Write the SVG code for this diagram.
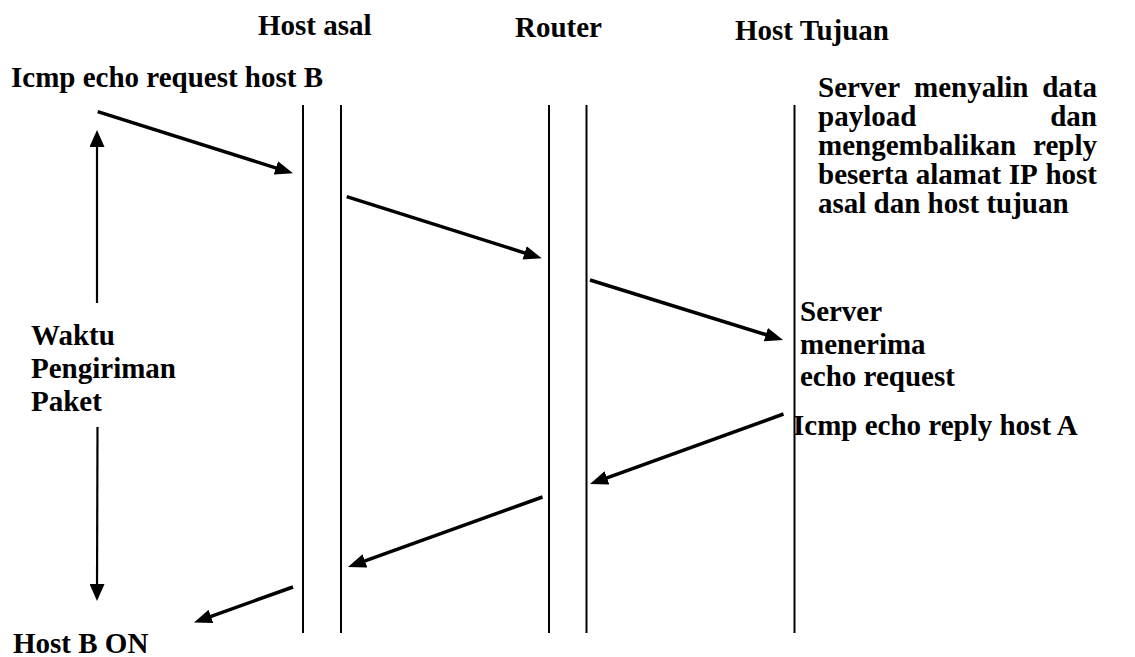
<svg xmlns="http://www.w3.org/2000/svg" width="1135" height="657" viewBox="0 0 1135 657">
  <style>
    text { font-family: "Liberation Serif", "Times New Roman", serif; font-weight: bold; font-size: 29px; fill: #000; }
    .life { stroke: #000; stroke-width: 2; fill: none; }
    .msg { stroke: #000; stroke-width: 3.5; fill: none; marker-end: url(#headThick); }
    .time { stroke: #000; stroke-width: 2.2; fill: none; marker-end: url(#headThin); }
  </style>
  <defs>
    <marker id="headThick" markerUnits="userSpaceOnUse" viewBox="0 0 18 14" markerWidth="18" markerHeight="14" refX="8" refY="7" orient="auto">
      <path d="M0,0 L18,7 L0,14 z" fill="#000"/>
    </marker>
    <marker id="headThin" markerUnits="userSpaceOnUse" viewBox="0 0 17 15" markerWidth="17" markerHeight="15" refX="9" refY="7.5" orient="auto">
      <path d="M0,0 L17,7.5 L0,15 z" fill="#000"/>
    </marker>
  </defs>
  <rect width="1135" height="657" fill="#fff"/>

  <g id="host-asal">
    <text x="258" y="35">Host asal</text>
    <line class="life" x1="303" y1="105" x2="303" y2="633"/>
    <line class="life" x1="341" y1="105" x2="341" y2="633"/>
  </g>
  <g id="router">
    <text x="515" y="37">Router</text>
    <line class="life" x1="549" y1="105" x2="549" y2="633"/>
    <line class="life" x1="586.5" y1="105" x2="586.5" y2="633"/>
  </g>
  <g id="host-tujuan">
    <text x="735" y="40">Host Tujuan</text>
    <line class="life" x1="794.5" y1="105" x2="794.5" y2="633"/>
  </g>

  <g id="label-request">
    <text x="11" y="87">Icmp echo request host B</text>
  </g>
  <g id="label-server-copy">
    <text x="818" y="97">Server</text>
    <text x="914" y="97">menyalin</text>
    <text x="1097" y="97" text-anchor="end">data</text>
    <text x="818" y="126">payload</text>
    <text x="1097" y="126" text-anchor="end">dan</text>
    <text x="818" y="155">mengembalikan</text>
    <text x="1097" y="155" text-anchor="end">reply</text>
    <text x="818" y="184">beserta</text>
    <text x="915.8" y="184">alamat</text>
    <text x="1008.8" y="184">IP</text>
    <text x="1097" y="184" text-anchor="end">host</text>
    <text x="818" y="213">asal dan host tujuan</text>
  </g>
  <g id="label-server-receive">
    <text x="800" y="321">Server</text>
    <text x="800" y="354">menerima</text>
    <text x="800" y="386">echo request</text>
  </g>
  <g id="label-reply">
    <text x="793" y="435">Icmp echo reply host A</text>
  </g>
  <g id="label-time">
    <text x="31" y="345">Waktu</text>
    <text x="31" y="378">Pengiriman</text>
    <text x="31" y="411">Paket</text>
  </g>
  <g id="label-hostb">
    <text x="13" y="653">Host B ON</text>
  </g>

  <g id="connectors">
    <line class="msg" x1="97.7" y1="111.7" x2="283.5" y2="170.3"/>
    <line class="msg" x1="346.7" y1="196.7" x2="532.2" y2="255.3"/>
    <line class="msg" x1="590" y1="280" x2="773.5" y2="337"/>
    <line class="msg" x1="783.5" y1="414" x2="599.4" y2="480.6"/>
    <line class="msg" x1="542.5" y1="497" x2="357.4" y2="563.6"/>
    <line class="msg" x1="293" y1="587" x2="203.4" y2="619.1"/>
    <line class="time" x1="97" y1="303" x2="97" y2="138"/>
    <line class="time" x1="97.5" y1="427" x2="97" y2="593"/>
  </g>
</svg>
